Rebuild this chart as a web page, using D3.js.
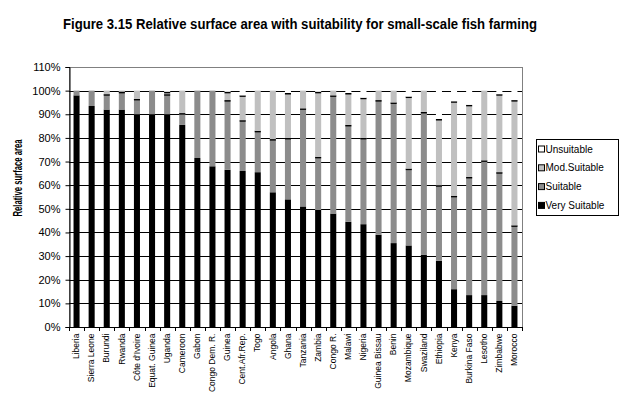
<!DOCTYPE html>
<html>
<head>
<meta charset="utf-8">
<script src="https://cdn.jsdelivr.net/npm/d3@7.9.0/dist/d3.min.js"></script>
<style>
  body { margin: 0; background: #fff; }
  svg { display: block; font-family: "Liberation Sans", Arial, sans-serif; }
</style>
</head>
<body>
<div id="chart"></div>
<script>
const countries = [
  "Liberia", "Sierra Leone", "Burundi", "Rwanda", "Côte d'Ivoire", "Equat. Guinea",
  "Uganda", "Cameroon", "Gabon", "Congo Dem. R.", "Guinea", "Cent.Afr.Rep.",
  "Togo", "Angola", "Ghana", "Tanzania", "Zambia", "Congo R.", "Malawi", "Nigeria",
  "Guinea Bissau", "Benin", "Mozambique", "Swaziland", "Ethiopia", "Kenya",
  "Burkina Faso", "Lesotho", "Zimbabwe", "Morocco"
];

// percent of surface area per class
const verySuitable = [98, 93.5, 92, 92, 90, 90, 90, 85.5, 71.5, 68, 66.5, 66, 65.5, 57, 54,
  51, 49.5, 48, 44.5, 43.5, 39, 35.5, 34.5, 30.5, 28, 16, 13.5, 13.5, 11, 9];
const suitable = [2, 6.5, 6.5, 7.5, 6.5, 10, 8.5, 5, 28.5, 32, 29.5, 21.5, 17.5, 22.5, 26,
  41.5, 22.5, 50, 41, 36.5, 57, 59.5, 32.5, 60.5, 32, 39.5, 50, 57, 54.5, 34];
const modSuitable = [0, 0, 1.5, 0.5, 3.5, 0, 1, 9.5, 0, 0, 3.5, 10.5, 17, 20.5, 19,
  7.5, 27.5, 2, 13.5, 17, 4, 5, 30.5, 9, 28, 40, 30.5, 29.5, 33, 53];
const unsuitable = [0, 0, 0, 0, 0, 0, 0.5, 0, 0, 0, 0.5, 2, 0, 0, 1,
  0, 0.5, 0, 1, 3, 0, 0, 2.5, 0, 12, 4.5, 6, 0, 1.5, 4];

const yTicks = [0, 10, 20, 30, 40, 50, 60, 70, 80, 90, 100, 110];

const seriesNames = ["Very Suitable", "Suitable", "Mod.Suitable", "Unsuitable"];
const seriesColors = ["#000000", "#8c8c8c", "#c0c0c0", "#ffffff"];

const width = 624, height = 402;
const plot = { left: 69, right: 522, top: 67, bottom: 327 };

const rows = countries.map((c, i) => ({
  country: c,
  "Very Suitable": verySuitable[i],
  "Suitable": suitable[i],
  "Mod.Suitable": modSuitable[i],
  "Unsuitable": unsuitable[i]
}));

const stacked = d3.stack().keys(seriesNames)(rows);

const svg = d3.select("#chart").append("svg")
  .attr("width", width)
  .attr("height", height);

const x = d3.scaleBand()
  .domain(countries)
  .range([plot.left, plot.right])
  .paddingInner(0.6)
  .paddingOuter(0.3);

const y = d3.scaleLinear()
  .domain([0, 110])
  .range([plot.bottom, plot.top]);

// title
svg.append("text")
  .attr("x", 63)
  .attr("y", 29)
  .attr("font-size", 14)
  .attr("font-weight", "bold")
  .attr("textLength", 474)
  .attr("lengthAdjust", "spacingAndGlyphs")
  .text("Figure 3.15 Relative surface area with suitability for small-scale fish farming");

// plot area border (top and right grey)
svg.append("rect")
  .attr("x", plot.left)
  .attr("y", plot.top)
  .attr("width", plot.right - plot.left)
  .attr("height", plot.bottom - plot.top)
  .attr("fill", "#fff")
  .attr("stroke", "#808080")
  .attr("stroke-width", 1)
  .attr("shape-rendering", "crispEdges");

// gridlines
svg.append("g")
  .selectAll("line")
  .data(yTicks.filter((d) => d > 0 && d < 110))
  .join("line")
  .attr("x1", plot.left)
  .attr("x2", plot.right)
  .attr("y1", (d) => Math.round(y(d)) + 0.5)
  .attr("y2", (d) => Math.round(y(d)) + 0.5)
  .attr("stroke", "#000");

// bars
const layers = svg.append("g")
  .selectAll("g")
  .data(stacked)
  .join("g")
  .attr("fill", (d, i) => seriesColors[i]);

layers.selectAll("rect")
  .data((d) => d)
  .join("rect")
  .attr("x", (d) => x(d.data.country))
  .attr("width", x.bandwidth())
  .attr("y", (d) => y(d[1]))
  .attr("height", (d) => y(d[0]) - y(d[1]));

// thin black edge on top of the grey segments
layers.filter((d, i) => i === 1 || i === 2)
  .selectAll("line")
  .data((d) => d.filter((s) => s[1] - s[0] > 0 && s[1] < 100))
  .join("line")
  .attr("x1", (d) => x(d.data.country))
  .attr("x2", (d) => x(d.data.country) + x.bandwidth())
  .attr("y1", (d) => y(d[1]) + 0.75)
  .attr("y2", (d) => y(d[1]) + 0.75)
  .attr("stroke", "#000")
  .attr("stroke-width", 1.5);

// y axis
const yAxis = svg.append("g")
  .attr("transform", `translate(${plot.left + 0.5},0)`)
  .call(d3.axisLeft(y).tickValues(yTicks).tickSize(4).tickPadding(5)
    .tickFormat((d) => d + "%"));
yAxis.selectAll("text").attr("font-size", 11).attr("font-family", "Liberation Sans, Arial, sans-serif");
yAxis.select(".domain").attr("stroke", "#000");

// x axis
const xAxis = svg.append("g")
  .attr("transform", `translate(0,${plot.bottom + 0.5})`)
  .call(d3.axisBottom(x).tickSize(0).tickPadding(0));
xAxis.select(".domain").attr("d", `M${plot.left},0H${plot.right}`).attr("stroke", "#000");
xAxis.selectAll(".tick text")
  .attr("font-size", 8.5)
  .attr("font-family", "Liberation Sans, Arial, sans-serif")
  .attr("text-anchor", "end")
  .attr("dy", "0.32em")
  .attr("transform", "translate(0,6) rotate(-90)");

// category separators below the axis
svg.append("g")
  .selectAll("line")
  .data(d3.range(countries.length + 1))
  .join("line")
  .attr("x1", (i) => Math.round(plot.left + i * (plot.right - plot.left) / countries.length) + 0.5)
  .attr("x2", (i) => Math.round(plot.left + i * (plot.right - plot.left) / countries.length) + 0.5)
  .attr("y1", plot.bottom)
  .attr("y2", plot.bottom + 4)
  .attr("stroke", "#000");

// y label
svg.append("text")
  .attr("transform", "translate(22,178) rotate(-90)")
  .attr("text-anchor", "middle")
  .attr("font-size", 12)
  .attr("font-weight", "bold")
  .attr("textLength", 77)
  .attr("lengthAdjust", "spacingAndGlyphs")
  .text("Relative surface area");

// legend
const legend = svg.append("g");
legend.append("rect")
  .attr("x", 536.5)
  .attr("y", 139.5)
  .attr("width", 82)
  .attr("height", 76)
  .attr("fill", "#fff")
  .attr("stroke", "#000");

const legendOrder = [3, 2, 1, 0];
const legendItems = legend.selectAll("g.item")
  .data(legendOrder)
  .join("g")
  .attr("class", "item")
  .attr("transform", (d, i) => `translate(538.5,${149 + i * 18.8})`);

legendItems.append("rect")
  .attr("x", 0)
  .attr("y", -3)
  .attr("width", 6)
  .attr("height", 6)
  .attr("fill", (d) => seriesColors[d])
  .attr("stroke", "#000");

legendItems.append("text")
  .attr("x", 7)
  .attr("y", 0)
  .attr("dy", "0.35em")
  .attr("font-size", 10)
  .text((d) => seriesNames[d]);
</script>
</body>
</html>
